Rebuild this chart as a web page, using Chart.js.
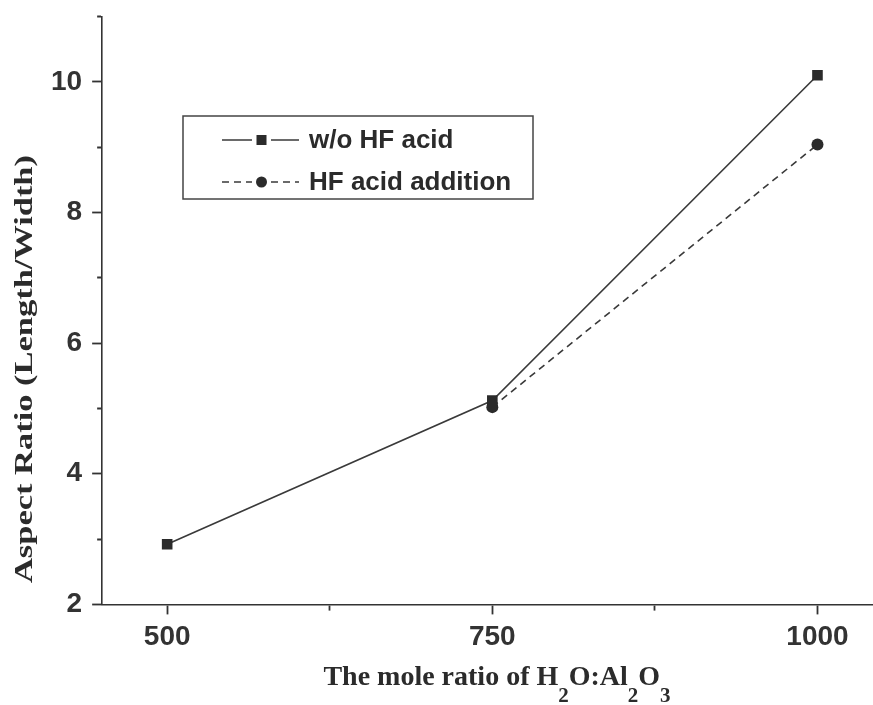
<!DOCTYPE html>
<html>
<head>
<meta charset="utf-8">
<script src="https://cdn.jsdelivr.net/npm/chart.js@4.4.1/dist/chart.umd.min.js"></script>
<style>
  html, body { margin: 0; padding: 0; background: #fff; overflow: hidden; }
</style>
</head>
<body>
<canvas id="chart" width="890" height="705"></canvas>
<script>
const moleRatio = [500, 750, 1000];
const withoutHF = [2.92, 5.12, 10.1];
const withHF = [null, 5.02, 9.04];
const seriesNames = ["w/o HF acid", "HF acid addition"];

const xTicks = [500, 625, 750, 875, 1000];
const xTickLabels = ["500", "", "750", "", "1000"];
const yTickLabels = ["2", "", "4", "", "6", "", "8", "", "10", ""]; // 2..11

const yTitle = "Aspect Ratio (Length/Width)";
// [text, isSubscript]
const xTitle = [["The mole ratio of H", 0], ["2", 1], ["O:Al", 0], ["2", 1], ["O", 0], ["3", 1]];

const ink = "#2b2b2b";
const tickFont = { family: "'Liberation Sans', Arial", size: 28, weight: "bold" };

// minor ticks are half length: dash the tick line (bottom ticks start at the axis, left ones at the outer end)
const xTickDash = (c) => (c.tick && c.tick.value % 250 ? [5, 30] : [20, 1]);
const yTickDash = (c) => (c.tick && c.tick.value % 2 ? [0, 5, 10] : [20, 1]);

const extras = {
  id: "extras",
  afterDraw(chart) {
    const ctx = chart.ctx;
    ctx.save();
    ctx.fillStyle = ink;

    // x title with subscripts
    const big = "bold 28px 'Liberation Serif', 'Times New Roman', serif";
    const small = "bold 21px 'Liberation Serif', 'Times New Roman', serif";
    let total = 0;
    xTitle.forEach(([t, sub]) => {
      ctx.font = sub ? small : big;
      total += ctx.measureText(t).width;
    });
    let x = 497 - total / 2;
    ctx.textAlign = "left";
    ctx.textBaseline = "alphabetic";
    xTitle.forEach(([t, sub]) => {
      ctx.font = sub ? small : big;
      ctx.fillText(t, x, sub ? 702 : 685);
      x += ctx.measureText(t).width;
    });

    // y title, stretched along the axis like the scan
    ctx.save();
    ctx.font = "bold 26px 'Liberation Serif', 'Times New Roman', serif";
    const w = ctx.measureText(yTitle).width;
    ctx.translate(25, 369);
    ctx.rotate(-Math.PI / 2);
    ctx.scale(428 / w, 1);
    ctx.textAlign = "center";
    ctx.textBaseline = "middle";
    ctx.fillText(yTitle, 0, 0);
    ctx.restore();

    // legend box
    ctx.strokeStyle = "#444";
    ctx.lineWidth = 1.5;
    ctx.strokeRect(183, 116, 350, 83);
    ctx.font = "bold 26px 'Liberation Sans', Arial, sans-serif";
    ctx.textBaseline = "middle";
    chart.data.datasets.forEach((ds, i) => {
      const y = 140 + i * 42;
      ctx.strokeStyle = ds.borderColor;
      ctx.lineWidth = ds.borderWidth;
      ctx.setLineDash(ds.borderDash || []);
      ctx.beginPath();
      ctx.moveTo(222, y); ctx.lineTo(252, y);
      ctx.moveTo(271, y); ctx.lineTo(299, y);
      ctx.stroke();
      ctx.setLineDash([]);
      ctx.fillStyle = ds.pointBackgroundColor;
      if (ds.pointStyle === "rect") {
        ctx.fillRect(256.5, y - 5, 10, 10);
      } else {
        ctx.beginPath();
        ctx.arc(261.5, y, 5.5, 0, Math.PI * 2);
        ctx.fill();
      }
      ctx.fillStyle = ink;
      ctx.fillText(ds.label, 309, y + 1);
    });
    ctx.restore();
  }
};

new Chart(document.getElementById("chart"), {
  type: "line",
  data: {
    datasets: [
      {
        label: seriesNames[0],
        data: moleRatio.map((m, i) => ({ x: m, y: withoutHF[i] })),
        borderColor: "#3a3a3a",
        borderWidth: 1.6,
        pointStyle: "rect",
        pointRadius: 7.5,
        pointBorderWidth: 0,
        pointBackgroundColor: ink,
        fill: false,
        tension: 0
      },
      {
        label: seriesNames[1],
        data: moleRatio.map((m, i) => ({ x: m, y: withHF[i] })),
        borderColor: "#3a3a3a",
        borderWidth: 1.6,
        borderDash: [7, 5],
        pointStyle: "circle",
        pointRadius: 6,
        pointBorderWidth: 0,
        pointBackgroundColor: ink,
        fill: false,
        tension: 0
      }
    ]
  },
  options: {
    responsive: false,
    animation: false,
    events: [],
    layout: { padding: { left: 41, right: 3, top: 16.5, bottom: 45 } },
    plugins: { legend: { display: false }, tooltip: { enabled: false } },
    scales: {
      x: {
        type: "linear",
        min: 450,
        max: 1050,
        afterBuildTicks: (s) => { s.ticks = xTicks.map((v) => ({ value: v })); },
        ticks: {
          autoSkip: false,
          maxRotation: 0,
          padding: 6,
          color: "#333",
          font: tickFont,
          callback: (v, i) => xTickLabels[i]
        },
        grid: {
          drawOnChartArea: false,
          tickLength: 10,
          tickWidth: 1.8,
          tickColor: "#333",
          tickBorderDash: xTickDash
        },
        border: { color: "#333", width: 1.6 }
      },
      y: {
        min: 2,
        max: 11,
        // the top tick has no label, so it needs no room above the plot
        afterFit: (s) => { s.paddingTop = 0; },
        ticks: {
          stepSize: 1,
          autoSkip: false,
          padding: 10,
          color: "#333",
          font: tickFont,
          callback: (v, i) => yTickLabels[i]
        },
        grid: {
          drawOnChartArea: false,
          tickLength: 10,
          tickWidth: 1.8,
          tickColor: "#333",
          tickBorderDash: yTickDash
        },
        border: { color: "#333", width: 1.6 }
      }
    }
  },
  plugins: [extras]
});
</script>
</body>
</html>
